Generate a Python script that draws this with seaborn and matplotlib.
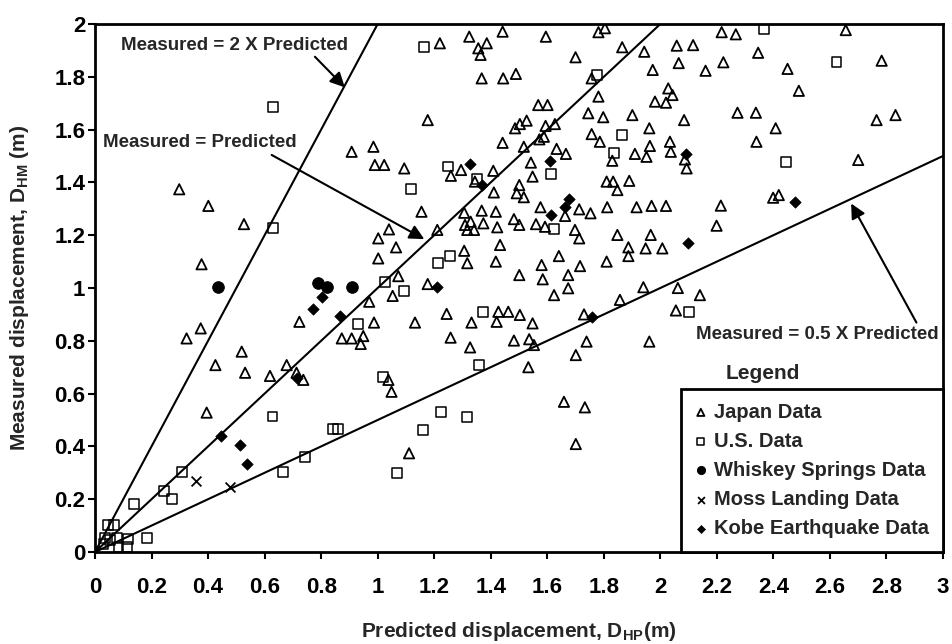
import numpy as np
import pandas as pd
import seaborn as sns
import matplotlib
matplotlib.use("Agg")
import matplotlib.pyplot as plt

# (predicted, measured) displacement in m
japan = [(0.908,1.516),(0.985,1.535),(0.990,1.466),(1.023,1.466),(0.298,1.374),(0.401,1.311),
         (0.527,1.242),(0.377,1.090),(1.040,1.222),(1.002,1.188),(1.002,1.112),(0.970,0.948),
         (0.723,0.872),(0.987,0.869),(0.873,0.809),(0.908,0.809),(0.949,0.818),(0.940,0.788),
         (0.324,0.809),(0.374,0.847),(0.519,0.759),(0.426,0.708),(0.531,0.679),(0.619,0.667),
         (0.678,0.708),(0.713,0.679),(0.737,0.652),(1.049,0.607),(1.038,0.652),(0.395,0.528),
         (1.220,1.927),(1.324,1.952),(1.442,1.971),(1.356,1.908),(1.386,1.927),(1.364,1.883),
         (1.595,1.952),(1.781,1.969),(1.804,1.984),(1.700,1.874),(1.865,1.912),(1.943,1.895),
         (2.058,1.918),(2.065,1.852),(1.973,1.826),(1.368,1.794),(1.444,1.794),(1.489,1.811),
         (1.757,1.794),(1.781,1.725),(2.028,1.756),(2.043,1.731),(2.020,1.702),(1.981,1.706),
         (1.568,1.693),(1.601,1.693),(1.177,1.636),(1.745,1.662),(1.798,1.647),(1.901,1.655),
         (1.486,1.605),(1.503,1.621),(1.527,1.634),(1.594,1.614),(1.627,1.621),(1.961,1.605),
         (1.757,1.583),(1.786,1.554),(1.442,1.550),(1.517,1.535),(1.572,1.563),(1.588,1.573),
         (1.633,1.527),(1.666,1.508),(1.830,1.482),(1.910,1.508),(1.951,1.497),(1.963,1.538),
         (2.034,1.554),(2.037,1.516),(1.094,1.453),(1.295,1.447),(1.259,1.425),(1.409,1.444),
         (1.344,1.403),(1.542,1.475),(1.548,1.422),(1.810,1.403),(1.833,1.403),(1.848,1.371),
         (1.890,1.406),(1.411,1.362),(1.501,1.390),(1.492,1.359),(1.517,1.344),(1.713,1.298),
         (1.753,1.283),(1.812,1.306),(1.916,1.306),(1.969,1.311),(2.020,1.311),(1.576,1.306),
         (1.663,1.273),(1.155,1.289),(1.306,1.285),(1.368,1.293),(1.418,1.289),(1.309,1.239),
         (1.329,1.251),(1.317,1.220),(1.341,1.220),(1.374,1.245),(1.423,1.230),(1.482,1.261),
         (1.501,1.239),(1.560,1.242),(1.592,1.232),(1.698,1.220),(1.713,1.188),(1.848,1.201),
         (1.966,1.201),(1.211,1.220),(1.065,1.154),(1.433,1.163),(1.418,1.100),(1.306,1.141),
         (1.317,1.094),(1.641,1.121),(1.716,1.083),(1.810,1.100),(1.887,1.154),(1.887,1.121),
         (1.948,1.150),(2.007,1.150),(1.580,1.087),(1.501,1.049),(1.584,1.033),(1.674,1.049),
         (1.674,0.999),(1.624,0.973),(1.073,1.045),(1.053,0.970),(1.177,1.015),(1.857,0.955),
         (1.940,1.003),(2.062,1.000),(2.055,0.915),(1.427,0.910),(1.462,0.910),(1.503,0.898),
         (1.244,0.902),(1.730,0.900),(1.132,0.869),(1.548,0.866),(1.421,0.872),(1.332,0.869),
         (1.258,0.812),(1.327,0.775),(1.482,0.801),(1.536,0.806),(1.553,0.784),(1.533,0.700),
         (1.701,0.746),(1.739,0.797),(1.961,0.797),(1.659,0.569),(1.733,0.548),(1.701,0.409),
         (1.111,0.374),(2.217,1.969),(2.267,1.961),(2.656,1.977),(2.116,1.920),(2.160,1.823),
         (2.223,1.855),(2.346,1.891),(2.450,1.830),(2.783,1.861),(2.490,1.747),(2.084,1.636),
         (2.273,1.664),(2.338,1.664),(2.408,1.605),(2.765,1.636),(2.832,1.655),(2.340,1.554),
         (2.700,1.485),(2.087,1.487),(2.093,1.453),(2.214,1.312),(2.199,1.236),(2.399,1.342),
         (2.419,1.352),(2.140,0.973)]

us = [(0.631,1.686),(0.631,1.226),(1.026,1.024),(0.931,0.864),(1.018,0.662),(0.628,0.513),
      (0.841,0.465),(0.861,0.465),(0.743,0.361),(0.664,0.304),(0.307,0.304),(0.244,0.232),
      (0.271,0.200),(0.138,0.182),(0.047,0.102),(0.067,0.102),(0.035,0.052),(0.077,0.052),
      (0.118,0.048),(0.183,0.052),(0.053,0.045),(0.083,0.020),(0.112,0.020),(0.030,0.030),
      (1.165,1.914),(1.775,1.807),(1.865,1.580),(1.836,1.510),(1.248,1.460),(1.352,1.413),
      (1.612,1.432),(1.624,1.222),(1.214,1.094),(1.256,1.121),(1.093,0.990),(1.374,0.910),
      (1.117,1.375),(1.359,0.708),(1.224,0.531),(1.317,0.510),(1.159,0.462),(1.067,0.298),
      (2.366,1.980),(2.623,1.855),(2.444,1.478),(2.102,0.910)]

whiskey = [(0.434,1.003),(0.790,1.020),(0.822,1.005),(0.910,1.003)]

moss = [(0.357,0.270),(0.478,0.247)]

kobe = [(0.802,0.967),(0.770,0.919),(0.867,0.895),(0.716,0.658),(0.446,0.439),(0.513,0.405),
        (0.539,0.332),(1.327,1.468),(1.368,1.390),(1.609,1.481),(1.678,1.336),(1.663,1.308),
        (1.612,1.277),(1.211,1.003),(1.757,0.889),(2.091,1.508),(2.478,1.327),(2.099,1.169)]

ratios = [2, 1, 0.5]
x_ticks = np.arange(0, 3.01, 0.2)
y_ticks = np.arange(0, 2.01, 0.2)

sns.set_style("ticks")
plt.rcParams['font.family'] = ['Liberation Sans', 'DejaVu Sans']
plt.rcParams['font.weight'] = 'bold'
plt.rcParams['mathtext.fontset'] = 'custom'
plt.rcParams['mathtext.bf'] = 'Liberation Sans:bold'
plt.rcParams['mathtext.rm'] = 'Liberation Sans:bold'
plt.rcParams['mathtext.default'] = 'bf'


def frame(pts):
    return pd.DataFrame(pts, columns=["pred", "meas"])


fig = plt.figure(figsize=(9.52, 6.44), dpi=100)
ax = fig.add_axes([95/952, 1-552/644, 848/952, 528/644])

# reference lines Measured = k x Predicted
for k in ratios:
    xs = np.array([0, min(3, 2 / k)])
    ax.plot(xs, k * xs, color="black", lw=1.5, zorder=2)

sns.scatterplot(data=frame(japan), x="pred", y="meas", marker="^", s=55, color="black",
                facecolor="none", edgecolor="black", linewidth=1.3, label="Japan Data", ax=ax, zorder=3)
sns.scatterplot(data=frame(us), x="pred", y="meas", marker="s", s=50, color="black",
                facecolor="none", edgecolor="black", linewidth=1.1, label="U.S. Data", ax=ax, zorder=3)
sns.scatterplot(data=frame(whiskey), x="pred", y="meas", marker="o", s=70, color="black",
                edgecolor="black", label="Whiskey Springs Data", ax=ax, zorder=3)
sns.scatterplot(data=frame(moss), x="pred", y="meas", marker="x", s=50, color="black",
                linewidth=1.3, label="Moss Landing Data", ax=ax, zorder=3)
sns.scatterplot(data=frame(kobe), x="pred", y="meas", marker="D", s=34, color="black",
                edgecolor="black", label="Kobe Earthquake Data", ax=ax, zorder=3)

# annotations
arrow = dict(arrowstyle="-|>", color="black", lw=1.5, mutation_scale=22, shrinkA=0, shrinkB=0)
ax.text(0.495, 1.92, "Measured = 2 X Predicted", ha="center", va="center", fontsize=13.5, fontweight="bold")
ax.annotate("", xy=(0.884, 1.76), xytext=(0.778, 1.876), arrowprops=arrow)
ax.text(0.37, 1.55, "Measured = Predicted", ha="center", va="center", fontsize=13.5, fontweight="bold")
ax.annotate("", xy=(1.165, 1.185), xytext=(0.625, 1.504), arrowprops=arrow)
ax.text(2.557, 0.822, "Measured = 0.5 X Predicted", ha="center", va="center", fontsize=13.5, fontweight="bold")
ax.annotate("", xy=(2.675, 1.32), xytext=(2.906, 0.869), arrowprops=arrow)

ax.text(2.363, 0.678, "Legend", ha="center", va="center", fontsize=15, fontweight="bold")
leg = ax.legend(loc="lower right", bbox_to_anchor=(1, 0), borderaxespad=0, frameon=True,
                fancybox=False, edgecolor="black", framealpha=1,
                prop={"weight": "bold", "size": 14.5}, markerscale=0.7,
                handletextpad=0.35, handlelength=0.6, labelspacing=0.5, borderpad=0.7)
leg.get_frame().set_linewidth(2)

ax.set_xlim(0, 3)
ax.set_ylim(0, 2)
ax.set_xticks(x_ticks)
ax.set_xticklabels([f"{v:g}" for v in np.round(x_ticks, 1)])
ax.set_yticks(y_ticks)
ax.set_yticklabels([f"{v:g}" for v in np.round(y_ticks, 1)])
ax.tick_params(direction="out", length=5, width=1.5, labelsize=16, colors="black")
ax.tick_params(axis="x", pad=13)
ax.tick_params(axis="y", pad=2)
for lab in ax.get_xticklabels() + ax.get_yticklabels():
    lab.set_fontweight("bold")

for sp in ax.spines.values():
    sp.set_visible(True)
    sp.set_linewidth(2)
    sp.set_color("black")

ax.set_xlabel(r"Predicted displacement, D$_{HP}$(m)", fontsize=15, fontweight="bold")
ax.set_ylabel(r"Measured displacement, D$_{HM}$ (m)", fontsize=15, fontweight="bold")
ax.xaxis.set_label_coords(0.5, -0.128)
ax.yaxis.set_label_coords(-0.075, 0.5)

fig.savefig("out.png", dpi=100)
